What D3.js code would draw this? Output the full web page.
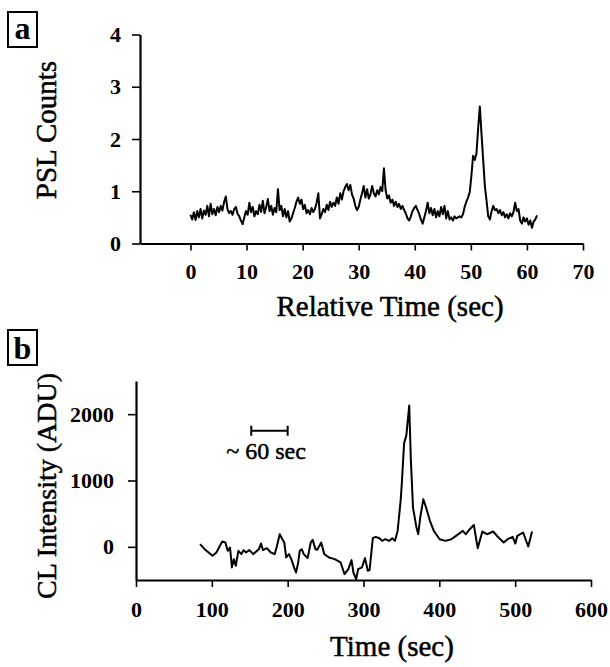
<!DOCTYPE html>
<html><head><meta charset="utf-8">
<script src="https://cdn.jsdelivr.net/npm/d3@7"></script>
<style>
body{margin:0;background:#fff;}
svg{display:block;}
text{font-family:"Liberation Serif","Times New Roman",serif;fill:#000;}
</style></head>
<body>
<svg id="c" width="610" height="667"></svg>
<script>
// ---------- Panel a data (PSL counts vs relative time, 0.3 s sampling) ----------
const psl_t0 = 0, psl_dt = 0.3;
const pslCounts = [
0.55,0.46,0.60,0.45,0.62,0.50,0.66,0.48,0.63,0.55,0.72,0.52,0.76,0.56,0.66,0.54,0.70,0.60,0.72,0.63,
0.80,0.90,0.66,0.58,0.62,0.55,0.66,0.70,0.57,0.52,0.44,0.37,0.50,0.62,0.55,0.78,0.60,0.70,0.52,0.62,
0.56,0.74,0.60,0.82,0.58,0.70,0.85,0.62,0.72,0.55,0.68,0.60,1.04,0.64,0.72,0.52,0.66,0.50,0.62,0.42,
0.48,0.58,0.68,0.80,0.88,0.76,0.84,0.66,0.74,0.58,0.64,0.56,0.68,0.60,0.66,0.78,0.96,0.48,0.56,0.66,
0.60,0.74,0.64,0.80,0.70,0.78,0.72,0.88,0.76,0.96,0.84,1.00,1.08,1.14,1.02,1.12,0.94,0.86,0.72,0.64,
0.70,0.84,0.96,1.10,0.88,1.04,0.86,0.94,1.10,0.96,0.90,1.02,0.94,1.08,1.00,1.44,1.02,0.86,0.92,0.78,
0.84,0.72,0.80,0.70,0.76,0.66,0.72,0.64,0.58,0.48,0.44,0.52,0.62,0.68,0.72,0.64,0.56,0.46,0.38,0.50,
0.62,0.78,0.58,0.68,0.54,0.66,0.50,0.62,0.52,0.70,0.56,0.72,0.48,0.62,0.46,0.50,0.44,0.52,0.48,0.50,
0.52,0.50,0.56,0.70,0.80,0.88,0.98,1.30,1.68,1.60,1.72,2.20,2.62,2.10,1.60,1.10,0.82,0.52,0.46,0.62,
0.72,0.64,0.66,0.58,0.64,0.54,0.60,0.50,0.56,0.48,0.58,0.52,0.60,0.78,0.62,0.66,0.44,0.38,0.50,0.42,
0.48,0.36,0.44,0.30,0.42,0.46,0.54
];
const aXTicks = [0,10,20,30,40,50,60,70];
const aYTicks = [0,1,2,3,4];

// ---------- Panel b data (CL intensity vs time) ----------
const clTime = [84.5,90.6,100.9,106,113.7,117.8,121,124,126.5,129,131.6,135,139,141.8,145,149.5,154.6,162,164.9,167.4,
172.6,177.7,182.8,185.4,189.5,193,195.6,198,201.7,204.8,208.4,211,213.5,216,218.6,221.2,226.3,230.4,233,236.6,
239,244.2,248.3,254.5,262,269.8,275,280,284.2,286.7,290.3,292.9,298,302,305.7,308,312.3,316,321,324.6,
328.7,333.8,338,341.5,345,349,350.5,353.5,356.5,360.3,362.5,365.3,369.7,372.2,374.8,378.9,382.5,387.6,392.7,400.4,
408,415.8,422,431,435,438.8,441.4,445.5,450.6,456.7,462.9,471,477.2,484.9,490,496.7,500.2,502.8,510.5,517.2,522.3];
const clIntensity = [40,-35,-136,-85,80,65,-60,-10,-310,-185,-286,-60,-110,-50,-85,-50,-110,-35,50,-50,
-20,-85,-110,-10,190,115,65,-160,-110,-185,-310,-387,-260,-60,-35,-110,-170,65,105,-35,
-45,65,-110,-160,-185,-236,-412,-337,-200,-387,-487,-337,-310,-170,-362,-350,130,150,130,90,
115,90,130,90,240,700,950,1560,1680,2130,1300,590,300,190,442,718,593,392,240,115,
90,115,165,240,190,250,281,330,-20,231,190,231,150,65,115,150,50,165,216,5,231];
const bXTicks = [0,100,200,300,400,500,600];
const bYTicks = [0,1000,2000];
const scaleBar = {x0:152, x1:200, y:1750, label:"~ 60 sec", labelX:119, labelY:1330};

const svg = d3.select("#c");

// ===== Panel a =====
const xA = d3.scaleLinear().domain([-9, 70]).range([140, 583]);
const yA = d3.scaleLinear().domain([0, 4]).range([243.5, 34.5]);

function styleAxis(g){
  g.selectAll("path.domain").attr("stroke","#000").attr("stroke-width",2.2);
  g.selectAll(".tick line").attr("stroke","#000").attr("stroke-width",1.6);
  g.selectAll(".tick text").attr("font-family","'Liberation Serif',serif")
    .attr("font-weight","bold").attr("font-size",22).attr("fill","#000");
}

svg.append("g").attr("transform","translate(0,243.5)")
  .call(d3.axisBottom(xA).tickValues(aXTicks).tickSize(7).tickSizeOuter(0).tickPadding(13).tickFormat(d3.format("d")))
  .call(styleAxis);
svg.append("g").attr("transform","translate(140,0)")
  .call(d3.axisLeft(yA).tickValues(aYTicks).tickSize(8).tickSizeOuter(0).tickPadding(11).tickFormat(d3.format("d")))
  .call(styleAxis);

const lineA = d3.line().x((d,i)=>xA(psl_t0 + i*psl_dt)).y(d=>yA(d));
svg.append("path").datum(pslCounts).attr("d",lineA)
  .attr("fill","none").attr("stroke","#000").attr("stroke-width",2).attr("stroke-linejoin","round");

const titleStyle = s => s.attr("stroke","#000").attr("stroke-width",0.5);

svg.append("text").attr("x",390).attr("y",316).attr("text-anchor","middle")
  .attr("font-size",29).call(titleStyle).text("Relative Time (sec)");
svg.append("text").attr("transform","translate(56,130) rotate(-90)").attr("text-anchor","middle")
  .attr("font-size",29).call(titleStyle).text("PSL Counts");

// panel label a
svg.append("rect").attr("x",8).attr("y",12).attr("width",29).attr("height",35)
  .attr("fill","none").attr("stroke","#000").attr("stroke-width",2);
svg.append("text").attr("x",22.5).attr("y",39).attr("text-anchor","middle")
  .attr("font-size",32).attr("font-weight","bold").text("a");

// ===== Panel b =====
const xB = d3.scaleLinear().domain([0, 600]).range([136, 591]);
const yB = d3.scaleLinear().domain([-500, 2500]).range([580, 381]);

svg.append("g").attr("transform","translate(0,580)")
  .call(d3.axisBottom(xB).tickValues(bXTicks).tickSize(7).tickSizeOuter(0).tickPadding(14).tickFormat(d3.format("d")))
  .call(styleAxis);
svg.append("g").attr("transform","translate(136,0)")
  .call(d3.axisLeft(yB).tickValues(bYTicks).tickSize(8).tickSizeOuter(0).tickPadding(14).tickFormat(d3.format("d")))
  .call(styleAxis);

const lineB = d3.line().x((d,i)=>xB(clTime[i])).y(d=>yB(d));
svg.append("path").datum(clIntensity).attr("d",lineB)
  .attr("fill","none").attr("stroke","#000").attr("stroke-width",2).attr("stroke-linejoin","round");

// scale bar annotation
const sb = svg.append("g").attr("stroke","#000").attr("stroke-width",2);
sb.append("line").attr("x1",xB(scaleBar.x0)).attr("x2",xB(scaleBar.x1)).attr("y1",yB(scaleBar.y)).attr("y2",yB(scaleBar.y));
sb.append("line").attr("x1",xB(scaleBar.x0)).attr("x2",xB(scaleBar.x0)).attr("y1",yB(scaleBar.y)-5).attr("y2",yB(scaleBar.y)+5);
sb.append("line").attr("x1",xB(scaleBar.x1)).attr("x2",xB(scaleBar.x1)).attr("y1",yB(scaleBar.y)-5).attr("y2",yB(scaleBar.y)+5);
svg.append("text").attr("x",xB(scaleBar.labelX)).attr("y",yB(scaleBar.labelY))
  .attr("font-size",24).call(titleStyle).text(scaleBar.label);

svg.append("text").attr("x",392).attr("y",656).attr("text-anchor","middle")
  .attr("font-size",29).call(titleStyle).text("Time (sec)");
svg.append("text").attr("transform","translate(56,486) rotate(-90)").attr("text-anchor","middle")
  .attr("font-size",28).call(titleStyle).text("CL Intensity (ADU)");

// panel label b
svg.append("rect").attr("x",8).attr("y",330).attr("width",29).attr("height",35)
  .attr("fill","none").attr("stroke","#000").attr("stroke-width",2);
svg.append("text").attr("x",22.5).attr("y",359).attr("text-anchor","middle")
  .attr("font-size",32).attr("font-weight","bold").text("b");
</script>
</body></html>
